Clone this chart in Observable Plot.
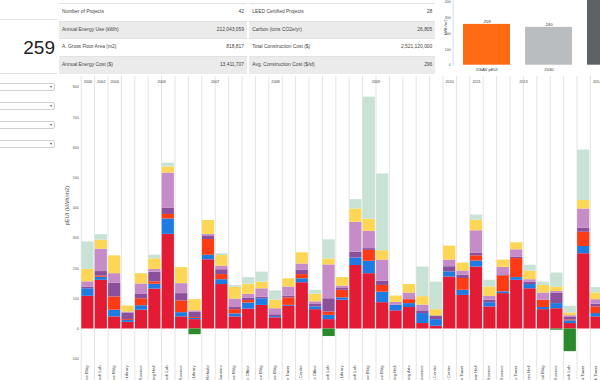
<!DOCTYPE html>
<html><head><meta charset="utf-8">
<script src="https://cdn.jsdelivr.net/npm/d3@7"></script>
<script src="https://cdn.jsdelivr.net/npm/@observablehq/plot@0.6"></script>
<style>
html,body{margin:0;padding:0;width:600px;height:380px;overflow:hidden;background:#fff;font-family:"Liberation Sans",Arial,Helvetica,sans-serif;}
#left{position:absolute;left:0;top:19px;width:57px;height:53px;border-top:1px solid #e2e2e2;border-bottom:1px solid #e2e2e2;}
#big{position:absolute;right:2px;top:18px;font-size:19px;color:#222;line-height:19px;}
.sel{position:absolute;left:-4px;width:59px;height:8px;box-sizing:border-box;border:1px solid #cfcfcf;border-radius:2px;background:#fff;}
.sel span{position:absolute;right:2px;top:0;font-size:4px;line-height:6px;color:#555;}
.tbl{position:absolute;top:3px;}
.row{position:relative;height:17.7px;border-top:1px solid #e2e2e2;box-sizing:border-box;font-size:4.9px;color:#444;}
.row.g{background:#ebebeb;}
.row .l{position:absolute;left:3px;top:0;line-height:16px;white-space:nowrap;}
.row .v{position:absolute;right:3px;top:0;line-height:16px;white-space:nowrap;}
#main{position:absolute;left:57px;top:75px;width:600px;height:310px;}
#small{position:absolute;left:440px;top:0;width:200px;height:80px;}
svg{overflow:hidden;max-width:none !important;}
</style>
</head><body>
<div id="left"><div id="big"></div></div>
<div id="sels"></div>
<div class="tbl" id="tl" style="left:59px;width:188px;"></div>
<div class="tbl" id="tr" style="left:249.3px;width:186px;"></div>
<div id="small"></div>
<div id="main"></div>
<script>
// ---- summary data ----
const bigValue = "259";
const leftLabels = ["Number of Projects", "Annual Energy Use (kWh)", "A. Gross Floor Area (m2)", "Annual Energy Cost ($)"];
const leftValues = ["42", "212,043,059", "818,817", "13,411,707"];
const rightLabels = ["LEED Certified Projects", "Carbon (tons CO2e/yr)", "Total Construction Cost ($)", "Avg. Construction Cost ($/sf)"];
const rightValues = ["28", "26,805", "2,521,120,000", "296"];

// ---- small comparison chart ----
const smallCats = ["DSAV pEUI", "2030", "Baseline"];
const smallVals = [259, 240, 480];
const smallColors = ["#ff6a13", "#babdc0", "#5e6265"];
const smallTicks = [0, 100, 200, 300, 400];

// ---- main chart ----
const names = ["Life Science Bldg","Chemistry Research Lab","Earth Science Bldg","Main Library","Centre for Science","Student Dining Hall","Biomedical Research Lab","Applied Science","Law Library","Gymnasium Rebuild","Botanical Gardens","Forestry Science Bldg","Administration Office","Marine Science Bldg","Pharmacy Science Bldg","Residence Tower","Aquatic Centre","Campus Services Office","Physics Research Lab","Music Library","Genome Research Lab","Medical Science Bldg","Animal Science Bldg","Engineering Hall","Performing Arts","Centre for Neuroscience","Student Wellness Centre","Recreation Centre","Graduate Tower","Student Union Hall","Institute of Earth Science","Ocean Science","Orchard Commons Tower","Brock Commons Hall","Pharmaceutical Bldg","Centre for Interactive Science","Bioenergy Research Lab","Ponderosa Tower","Aquatic Research Tower"];
const cats = ["Space Heating","Cooling","Hot Water","Fans","Plug Loads","Lighting","Process","Renewables"];
const colors = ["#e31b34","#1f7be2","#ff3b16","#8c4f9c","#c68cc7","#fdd655","#c8e2d6","#2b8a2b"];
const heating  = [108,161,40,22,62,132,313,40,31,229,147,40,66,78,37,75,153,64,31,95,210,183,87,60,71,18,9,172,111,205,73,117,161,133,64,67,18,249,40];
const cooling  = [25,10,22,6,15,16,51,14,4,15,16,10,20,22,4,3,13,9,14,8,25,41,35,19,13,33,22,17,17,20,14,6,9,14,7,17,9,24,11];
const hotWater = [0,4,44,3,23,8,15,39,3,52,17,14,8,0,0,25,14,0,11,25,0,36,22,0,13,0,0,0,39,17,0,53,63,0,24,0,3,47,22];
const fans     = [5,15,46,22,14,32,20,24,17,12,16,7,7,5,6,6,15,8,44,6,19,6,14,0,0,9,12,17,11,8,8,3,5,8,0,35,8,14,9];
const plugs    = [18,74,31,3,35,9,117,33,5,5,12,28,14,28,20,30,20,9,112,8,99,57,70,9,22,19,0,22,14,75,13,25,24,8,24,5,6,63,15];
const lighting = [41,30,59,20,34,35,20,53,37,46,35,39,33,22,28,27,37,25,20,28,44,40,31,21,28,28,21,46,26,35,31,24,23,28,25,14,9,28,22];
const process  = [91,18,0,0,0,12,13,0,0,0,6,6,22,33,31,0,0,13,63,0,31,404,254,0,0,98,91,0,0,17,22,0,0,20,11,47,22,167,18];
const renew    = [0,0,0,0,0,0,0,0,-19,0,0,0,0,0,0,0,0,0,-25,0,0,0,0,0,0,0,0,0,0,0,0,0,0,0,0,-4,-75,0,0];
const series = [heating, cooling, hotWater, fans, plugs, lighting, process, renew];
const totalProjects = 42;
const yearLabels = ["2000","2002","2004","2006","2007","2008","2009","2010","2011","2013","2014"];
const yearStart  = [0,1,2,3,9,11,18,26,29,30,36];
const yearEnd    = [1,2,3,9,11,18,26,29,30,36,41];
const yTicks = [-100,0,100,200,300,400,500,600,700,800];
const yLabel = "pEUI (kWh/m2)";
const FONT = "'Liberation Sans', Arial, Helvetica, sans-serif";

// left panel
document.getElementById("big").textContent = bigValue;
const sels = document.getElementById("sels");
[83, 102, 121, 140].forEach(t => {
  const d = document.createElement("div"); d.className = "sel"; d.style.top = t + "px";
  d.innerHTML = "<span>\u25BE</span>"; sels.appendChild(d);
});
// tables
function fillTable(id, labels, values) {
  const el = document.getElementById(id);
  labels.forEach((l, k) => {
    const r = document.createElement("div"); r.className = "row" + (k % 2 ? " g" : "");
    const a = document.createElement("div"); a.className = "l"; a.textContent = l;
    const b = document.createElement("div"); b.className = "v"; b.textContent = values[k];
    r.appendChild(a); r.appendChild(b); el.appendChild(r);
  });
}
fillTable("tl", leftLabels, leftValues);
fillTable("tr", rightLabels, rightValues);

// small chart
const small = Plot.plot({
  width: 200, height: 80,
  marginTop: 0, marginBottom: 15, marginLeft: 12.7, marginRight: 0,
  style: {fontFamily: FONT, background: "transparent", color: "#444", maxWidth: "none"},
  x: {type: "band", domain: smallCats, range: [21.7, 193.85], paddingInner: 0.25, paddingOuter: 0, axis: null},
  y: {domain: [0, 400], range: [64.7, 1.7], axis: null},
  color: {domain: smallCats, range: smallColors},
  marks: [
    Plot.frame({anchor: "left", stroke: "#d3dfe8"}),
    Plot.axisY({ticks: smallTicks, tickSize: 0, tickPadding: 2.5, fontSize: 3.5, label: null, fill: "#555"}),
    Plot.barY(smallCats, {x: d => d, y: (d, i) => smallVals[i], fill: d => d}),
    Plot.text(smallCats, {x: d => d, y: (d, i) => smallVals[i], text: (d, i) => String(smallVals[i]), dy: -2.6, fontSize: 4.3, fill: "#333"}),
    Plot.text(smallCats, {x: d => d, frameAnchor: "bottom", dy: 5.3, fontSize: 4.2, fill: "#333"}),
    Plot.text(["kWh/m2"], {frameAnchor: "left", rotate: -90, dx: -7.7, dy: 2, fontSize: 4.3, fill: "#555"})
  ]
});
document.getElementById("small").appendChild(small);

// main chart
const long = [];
cats.forEach((c, k) => series[k].forEach((v, i) => long.push({i, i2: i + 1, cat: c, value: v})));
const step = 13.4, x0 = 23.7;
const main = Plot.plot({
  width: 600, height: 310,
  marginTop: 1, marginBottom: 0, marginLeft: x0, marginRight: 0,
  style: {fontFamily: FONT, background: "transparent", color: "#444", maxWidth: "none"},
  x: {type: "linear", domain: [0, totalProjects], range: [x0, x0 + totalProjects * step], axis: null},
  y: {domain: [-100, 800], range: [283.7, 11.7], axis: null},
  color: {domain: cats, range: colors},
  marks: [
    Plot.ruleX(d3.range(0, totalProjects + 1), {stroke: "#e4e4e4", strokeWidth: 1}),
    Plot.rect(long, Plot.stackY({x1: "i", x2: "i2", y: "value", fill: "cat", insetLeft: 0.6, insetRight: 0.6})),
    Plot.axisY({ticks: yTicks, tickSize: 0, tickPadding: 2.5, fontSize: 3.6, label: null, fill: "#555", tickFormat: d => String(d)}),
    Plot.text(yearLabels, {x: (d, k) => (yearStart[k] + yearEnd[k]) / 2, frameAnchor: "top", dy: 4, fontSize: 3.8, fill: "#444"}),
    Plot.text(names, {x: (d, i) => i + 0.5, frameAnchor: "bottom", dy: -20, rotate: -90, textAnchor: "end", fontSize: 4.2, fill: "#444"}),
    Plot.text([yLabel], {frameAnchor: "left", rotate: -90, dx: -13.7, dy: -5.5, fontSize: 5.8, fill: "#444"})
  ]
});
document.getElementById("main").appendChild(main);
</script>
</body></html>
